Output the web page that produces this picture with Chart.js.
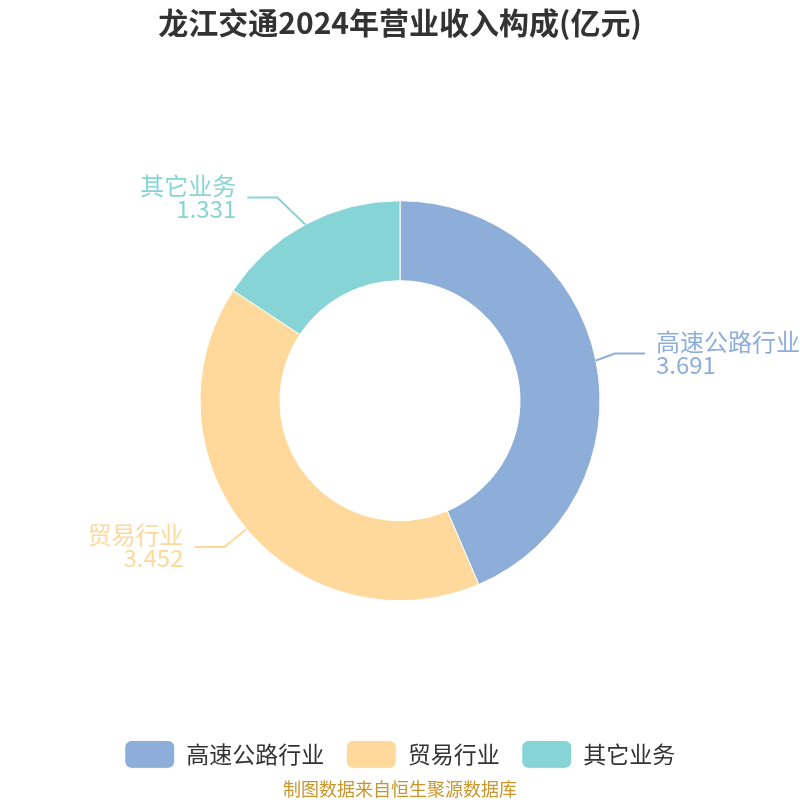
<!DOCTYPE html>
<html>
<head>
<meta charset="utf-8">
<script src="https://cdn.jsdelivr.net/npm/chart.js@4"></script>
<style>
  html, body { margin: 0; padding: 0; background: #ffffff; }
  #wrap { width: 800px; height: 800px; }
</style>
</head>
<body>
<div id="wrap"><canvas id="revenue-chart" width="800" height="800"></canvas></div>
<script>
    'use strict';

    const titleText = '龙江交通2024年营业收入构成(亿元)';
    const sourceText = '制图数据来自恒生聚源数据库';
    const categories = ['高速公路行业', '贸易行业', '其它业务'];
    const revenues = [3.691, 3.452, 1.331];
    const sliceColors = ['#8eaeda', '#ffd89b', '#87d4d6'];

    // Bend of each leader line, relative to the slice edge (label styling)
    const leaderBends = [[19, -7], [-22, 18], [-28, -27]];

    const CJK_FONT = '"Noto Sans CJK SC", "Noto Sans", sans-serif';

    // Leader lines + two-line labels beside each slice
    const sliceLabels = {
        id: 'sliceLabels',
        afterDatasetsDraw: function(chart) {
            const ctx = chart.ctx;
            const meta = chart.getDatasetMeta(0);
            ctx.save();
            meta.data.forEach((arc, i) => {
                const mid = (arc.startAngle + arc.endAngle) / 2;
                const r = arc.outerRadius;
                const x0 = arc.x + Math.cos(mid) * r;
                const y0 = arc.y + Math.sin(mid) * r;
                const x1 = x0 + leaderBends[i][0];
                const y1 = y0 + leaderBends[i][1];
                const dir = Math.cos(mid) >= 0 ? 1 : -1;
                const x2 = x1 + dir * 30;

                ctx.strokeStyle = sliceColors[i];
                ctx.lineWidth = 2;
                ctx.beginPath();
                ctx.moveTo(x0, y0);
                ctx.lineTo(x1, y1);
                ctx.lineTo(x2, y1);
                ctx.stroke();

                ctx.fillStyle = sliceColors[i];
                ctx.font = '24px ' + CJK_FONT;
                ctx.textAlign = dir > 0 ? 'left' : 'right';
                ctx.textBaseline = 'middle';
                const tx = x2 + dir * 11;
                ctx.fillText(categories[i], tx, y1 - 12);
                ctx.fillText(revenues[i].toFixed(3), tx, y1 + 11);
            });
            ctx.restore();
        }
    };

    const ctx = document.getElementById('revenue-chart').getContext('2d');
    const revenueChart = new Chart(ctx, {
        type: 'doughnut',
        data: {
            labels: categories,
            datasets: [{
                data: revenues,
                backgroundColor: sliceColors,
                borderColor: '#ffffff',
                borderWidth: 1,
                hoverOffset: 0
            }]
        },
        options: {
            responsive: false,
            animation: false,
            radius: 200,
            cutout: '60%',
            layout: { padding: 0 },
            plugins: {
                title: {
                    display: true,
                    text: titleText,
                    color: '#333333',
                    font: { family: CJK_FONT, size: 30, weight: 'bold' },
                    padding: { top: 5, bottom: 42 }
                },
                subtitle: {
                    display: true,
                    position: 'bottom',
                    text: sourceText,
                    color: '#c9962c',
                    font: { family: CJK_FONT, size: 18 },
                    padding: { top: 0, bottom: 0 }
                },
                legend: {
                    position: 'bottom',
                    labels: {
                        boxWidth: 50,
                        boxHeight: 28,
                        useBorderRadius: true,
                        borderRadius: 7,
                        padding: 22,
                        color: '#333333',
                        font: { family: CJK_FONT, size: 23 }
                    }
                },
                tooltip: { enabled: false }
            }
        },
        plugins: [sliceLabels]
    });
</script>
</body>
</html>
